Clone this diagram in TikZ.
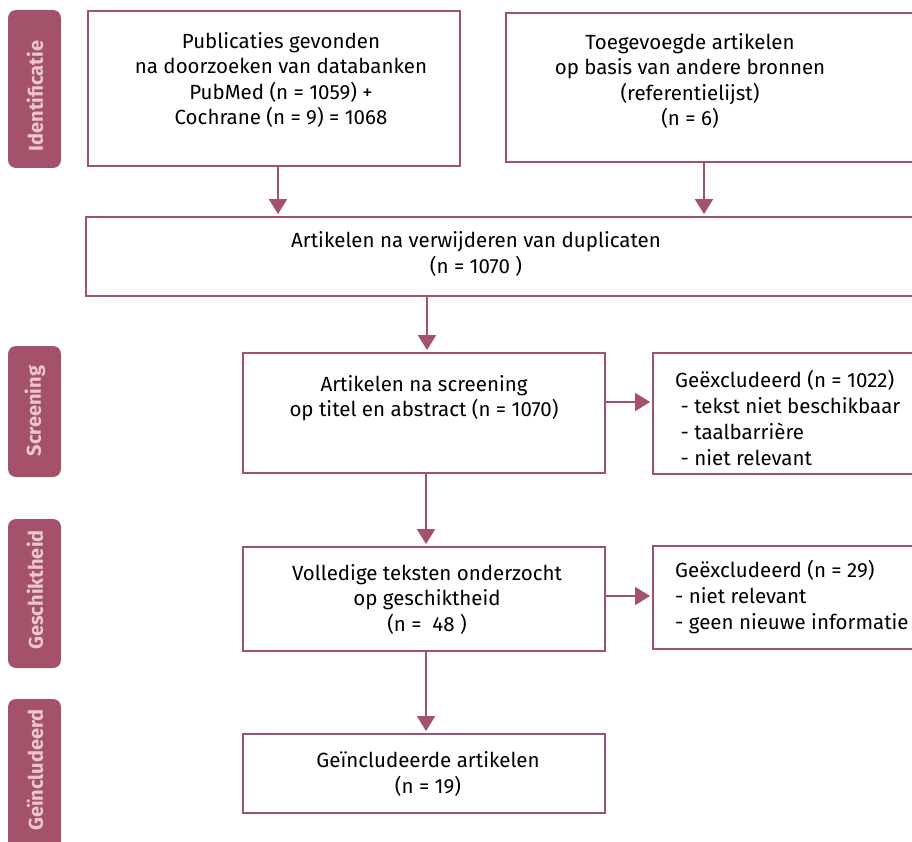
\documentclass[tikz,border=0pt]{standalone}
\usepackage{fontspec}
\setmainfont{Fira Sans}[UprightFont=* Light, BoldFont=* Bold]
\newfontfamily\regfont{Fira Sans}
\usetikzlibrary{arrows.meta}
\definecolor{berry}{HTML}{A4526A}
\definecolor{tagtxt}{HTML}{EBC6D0}
\begin{document}
\begin{tikzpicture}[x=1pt,y=-1pt,
  box/.style={draw=berry, line width=1.8pt, rectangle, inner sep=0pt},
  tag/.style={fill=berry, rounded corners=8pt, inner sep=0pt, minimum width=53pt},
  tagtext/.style={rotate=90, text=tagtxt, inner sep=0pt, font=\fontsize{20}{22}\selectfont\bfseries},
  txt/.style={align=center, inner sep=0pt, font=\regfont\fontsize{20.5}{25.5}\selectfont},
  ltxt/.style={align=left, anchor=west, inner sep=0pt, font=\regfont\fontsize{20.5}{26}\selectfont},
  arr/.style={draw=berry, line width=1.8pt, shorten >=2pt, -{Triangle[width=18pt,length=15pt]}}
]
\useasboundingbox (0,0) rectangle (912,842);
\clip (0,0) rectangle (912,842);

% phase tags
\node[tag, minimum height=158pt] (g1) at (34.5,89) {};
\node[tag, minimum height=131pt] (g2) at (34.5,411.5) {};
\node[tag, minimum height=149pt] (g3) at (34.5,593.5) {};
\node[tag, minimum height=170pt] (g4) at (34.5,784) {};
\node[tagtext] (l1) at (35,96) {Identificatie};
\node[tagtext] (l2) at (35,411) {Screening};
\node[tagtext] (l3) at (35,590) {Geschiktheid};
\node[tagtext] (l4) at (35,770) {Geïncludeerd};

% boxes
\node[box, minimum width=372pt, minimum height=155pt] (b1) at (274,88.5) {};
\node[box, minimum width=424pt, minimum height=149pt] (b2) at (718,87.5) {};
\node[box, minimum width=844pt, minimum height=79pt] (b3) at (508,256.5) {};
\node[box, minimum width=362pt, minimum height=120pt] (b4) at (424,413) {};
\node[box, minimum width=277pt, minimum height=121pt] (b5) at (791.5,413.5) {};
\node[box, minimum width=362pt, minimum height=104pt] (b6) at (424,599) {};
\node[box, minimum width=277pt, minimum height=103pt] (b7) at (791.5,597.5) {};
\node[box, minimum width=362pt, minimum height=79pt] (b8) at (424,773.5) {};

% texts
\node[txt] (t1) at (281,80) {Publicaties gevonden\\na doorzoeken van databanken\\PubMed (n = 1059) +\\Cochrane (n = 9) = 1068};
\node[txt] (t2) at (690,81) {Toegevoegde artikelen\\op basis van andere bronnen\\(referentielijst)\\(n = 6)};
\node[txt] (t3) at (476,254) {Artikelen na verwijderen van duplicaten\\(n = 1070 )};
\node[txt] (t4) at (424,398) {Artikelen na screening\\op titel en abstract (n = 1070)};
\node[ltxt] (t5) at (675,418) {Geëxcludeerd (n = 1022)\\\ - tekst niet beschikbaar\\\ - taalbarrière\\\ - niet relevant};
\node[txt] (t6) at (427,599) {Volledige teksten onderzocht\\op geschiktheid\\(n =\ \ 48 )};
\node[ltxt] (t7) at (675,597) {Geëxcludeerd (n = 29)\\- niet relevant\\- geen nieuwe informatie};
\node[txt] (t8) at (428,774) {Geïncludeerde artikelen\\(n = 19)};

% connectors
\draw[arr] ([xshift=4pt]b1.south) -- ([xshift=4pt]b1.south |- b3.north);
\draw[arr] ([xshift=-14pt]b2.south) -- ([xshift=-14pt]b2.south |- b3.north);
\draw[arr] ([xshift=3pt]b4.north |- b3.south) -- ([xshift=3pt]b4.north);
\draw[arr] ([xshift=2pt]b4.south) -- ([xshift=2pt]b6.north);
\draw[arr] ([xshift=2pt]b6.south) -- ([xshift=2pt]b8.north);
\draw[arr] ([yshift=11pt]b4.east) -- ([yshift=11pt]b4.east -| b5.west);
\draw[arr] ([yshift=3pt]b6.east) -- ([yshift=3pt]b6.east -| b7.west);
\end{tikzpicture}
\end{document}
